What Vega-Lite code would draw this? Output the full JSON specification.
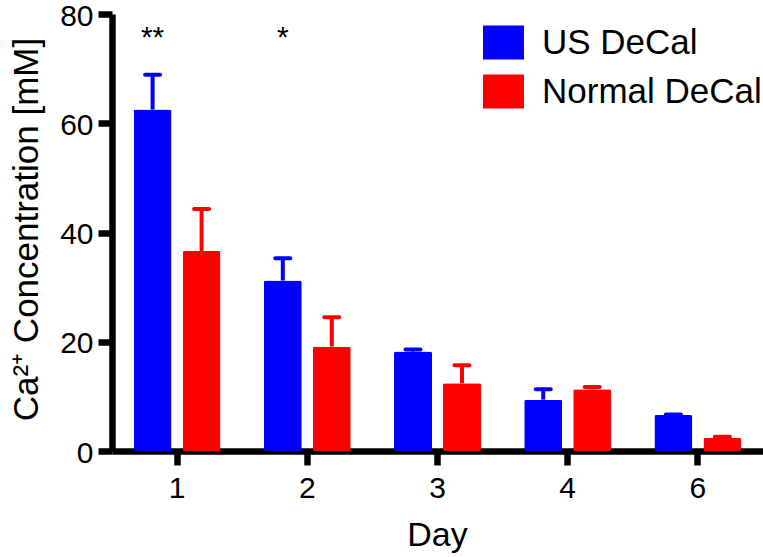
{
  "$schema": "https://vega.github.io/schema/vega-lite/v6.json",
  "autosize": "none",
  "width": 651,
  "height": 437,
  "padding": {"left": 112, "top": 14, "right": 0, "bottom": 106},
  "background": "white",
  "config": {
    "font": "Liberation Sans",
    "view": {"stroke": null},
    "axis": {"grid": false, "domainColor": "black", "domainWidth": 6.5, "tickWidth": 6.5, "tickColor": "black", "labelColor": "black", "titleColor": "black", "labelFont": "Liberation Sans", "titleFont": "Liberation Sans", "titleFontWeight": "normal"}
  },
  "datasets": {
    "bars": [
      {"day": "1", "group": "US DeCal", "mean": 62.5, "upper": 68.9},
      {"day": "1", "group": "Normal DeCal", "mean": 36.6, "upper": 44.3},
      {"day": "2", "group": "US DeCal", "mean": 31.2, "upper": 35.3},
      {"day": "2", "group": "Normal DeCal", "mean": 19.1, "upper": 24.5},
      {"day": "3", "group": "US DeCal", "mean": 18.2, "upper": 18.6},
      {"day": "3", "group": "Normal DeCal", "mean": 12.4, "upper": 15.7},
      {"day": "4", "group": "US DeCal", "mean": 9.4, "upper": 11.3},
      {"day": "4", "group": "Normal DeCal", "mean": 11.3, "upper": 11.7},
      {"day": "6", "group": "US DeCal", "mean": 6.6, "upper": 6.7},
      {"day": "6", "group": "Normal DeCal", "mean": 2.4, "upper": 2.6}
    ],
    "stars": [
      {"day": "1", "group": "US DeCal", "sig": "**"},
      {"day": "2", "group": "US DeCal", "sig": "*"}
    ]
  },
  "encoding": {
    "x": {
      "field": "day", "type": "ordinal", "sort": ["1", "2", "3", "4", "6"],
      "scale": {"paddingInner": 0.332, "paddingOuter": 0.166},
      "axis": {
        "title": "Day", "titleFontSize": 34, "titleX": 325, "titleY": 94, "titleBaseline": "alphabetic",
        "labelFontSize": 30, "labelAngle": 0, "labelBaseline": "alphabetic", "labelPadding": 32,
        "tickSize": 14, "tickWidth": 6.5, "domainWidth": 6.5
      }
    },
    "xOffset": {
      "field": "group", "type": "nominal", "sort": ["US DeCal", "Normal DeCal"],
      "scale": {"paddingInner": 0.2245, "paddingOuter": 0}
    },
    "color": {
      "field": "group", "type": "nominal",
      "scale": {"domain": ["US DeCal", "Normal DeCal"], "range": ["#0000ff", "#ff0000"]},
      "legend": {
        "title": null, "orient": "none", "legendX": 371, "legendY": 8,
        "symbolType": "M-1,-0.83L1,-0.83L1,0.83L-1,0.83Z", "symbolSize": 1681,
        "symbolStrokeWidth": 0, "symbolOpacity": 1,
        "labelFontSize": 35, "labelFont": "Liberation Sans", "labelColor": "black", "labelLimit": 400,
        "labelOffset": 18, "rowPadding": 10, "padding": 0
      }
    }
  },
  "layer": [
    {
      "data": {"name": "bars"},
      "mark": {"type": "bar", "cornerRadius": 2},
      "encoding": {
        "y": {
          "field": "mean", "type": "quantitative",
          "scale": {"domain": [0, 80], "nice": false},
          "axis": {
            "values": [0, 20, 40, 60, 80], "title": "Ca²⁺ Concentration [mM]", "titleFontSize": 35,
            "titleX": -75, "titleY": 215, "titleBaseline": "alphabetic", "titleAngle": 270,
            "labelFontSize": 30, "labelPadding": 5, "labelOffset": 2, "tickSize": 14, "tickWidth": 6.5, "domainWidth": 6.5
          }
        }
      }
    },
    {
      "data": {"name": "bars"},
      "mark": {"type": "rule", "strokeWidth": 4},
      "encoding": {
        "y": {"field": "mean", "type": "quantitative"},
        "y2": {"field": "upper"}
      }
    },
    {
      "data": {"name": "bars"},
      "mark": {"type": "tick", "size": 19, "thickness": 4, "cornerRadius": 2, "opacity": 1},
      "encoding": {
        "y": {"field": "upper", "type": "quantitative"}
      }
    },
    {
      "data": {"name": "stars"},
      "mark": {"type": "text", "fontSize": 30, "baseline": "alphabetic", "align": "center", "font": "Liberation Sans"},
      "encoding": {
        "y": {"datum": 74, "type": "quantitative"},
        "text": {"field": "sig"},
        "color": {"value": "black"}
      }
    }
  ]
}
